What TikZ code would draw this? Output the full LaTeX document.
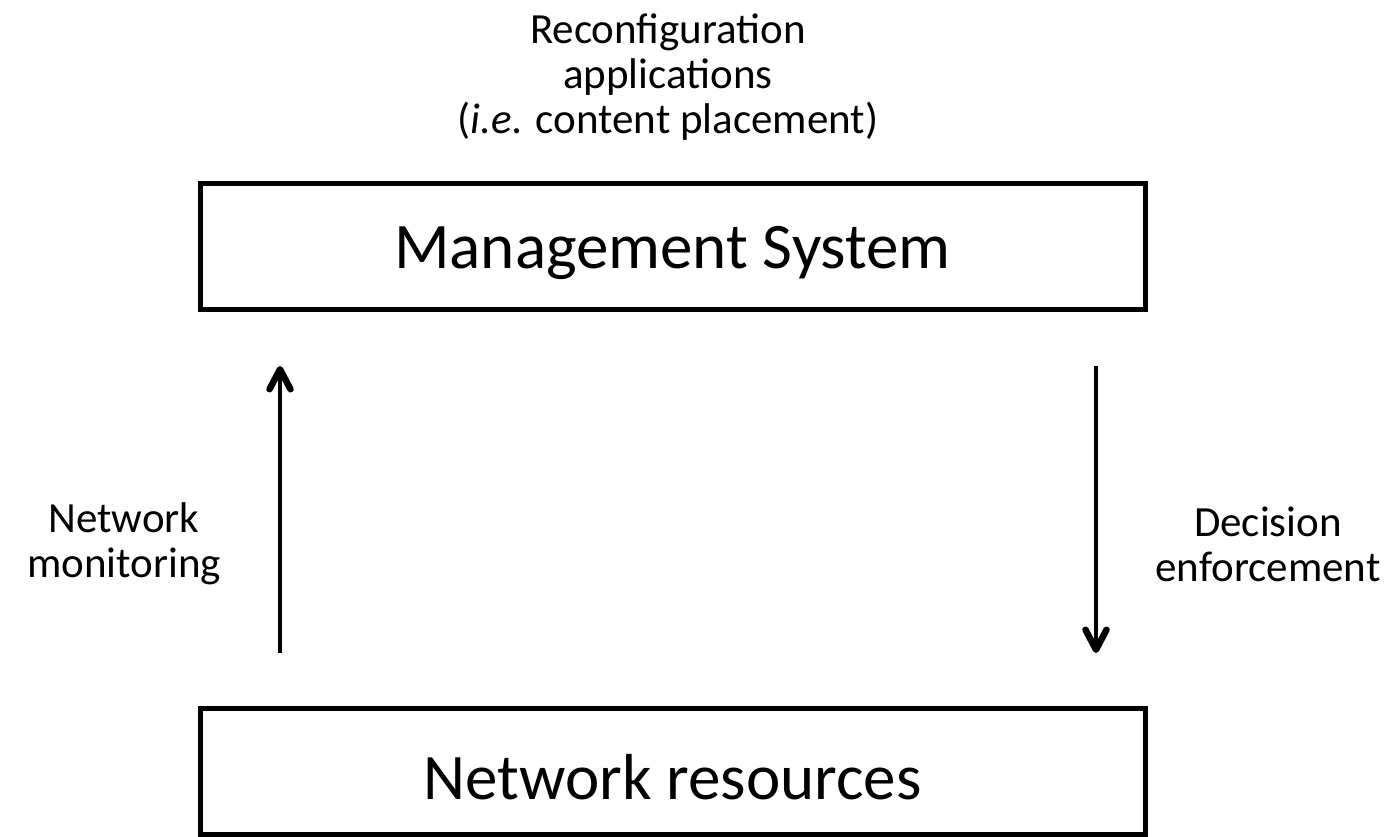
\documentclass[tikz,border=0pt]{standalone}
\usepackage{fontspec}
\setmainfont{Carlito}
\usetikzlibrary{arrows.meta}
\begin{document}
\begin{tikzpicture}[x=1pt,y=-1pt,
  box/.style={draw,line width=5pt,minimum width=945pt,minimum height=126pt,inner sep=0pt},
  boxtext/.style={anchor=base,inner sep=0pt,font=\fontsize{65}{78}\selectfont},
  lbl/.style={align=center,font=\fontsize{43}{45}\selectfont,inner sep=0pt},
  arr/.style={line width=4.5pt,-{Straight Barb[length=20pt,width=21pt,line width=6.5pt 0,round]}}]
\useasboundingbox (0,0) rectangle (1387,836);
\node[box] (ms) at (672.5,246) {};
\node[boxtext] (mst) at (672.5,268) {Management System};
\node[box] (nr) at (672.5,771.5) {};
\node[boxtext] (nrt) at (672.5,799) {Network resources};
\node[lbl] (rc) at (668,77) {Reconfiguration\\applications\\(\textit{i.e.} content placement)};
\coordinate (l0) at (280,653);
\coordinate (l1) at (280,366);
\coordinate (r0) at (1096,366);
\coordinate (r1) at (1096,653);
\draw[arr] (l0) -- (l1);
\draw[arr] (r0) -- (r1);
\node[lbl] (nm) at (124,544) {Network\\monitoring};
\node[lbl] (de) at (1268,544) {Decision\\enforcement};
\end{tikzpicture}
\end{document}
